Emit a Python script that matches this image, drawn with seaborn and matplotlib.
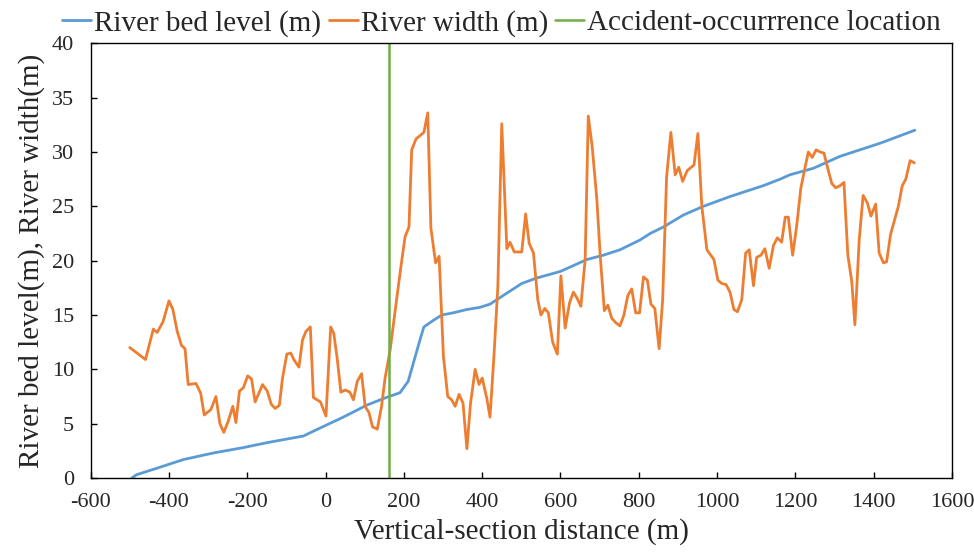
import numpy as np
import pandas as pd
import matplotlib
matplotlib.use('Agg')
import matplotlib.pyplot as plt
import seaborn as sns

# --- data ---
bed_x = [-495, -483, -431, -363, -287, -210, -150, -57, -14, 45, 105, 147, 190, 211,
         241, 251, 275, 297, 326, 360, 394, 420, 454, 501, 539, 599, 624, 667, 709,
         752, 803, 829, 863, 914, 965, 1033, 1118, 1161, 1186, 1246, 1314, 1416, 1505]
bed_level = [0.0, 0.3, 0.9, 1.7, 2.3, 2.8, 3.25, 3.86, 4.6, 5.6, 6.7, 7.3, 7.85, 8.9,
             12.7, 13.9, 14.5, 15.0, 15.2, 15.5, 15.7, 16.0, 16.8, 17.9, 18.4, 19.0,
             19.4, 20.1, 20.5, 21.0, 21.9, 22.5, 23.1, 24.2, 25.0, 25.9, 26.9, 27.5,
             27.9, 28.5, 29.6, 30.8, 32.0]

width_x = [-500, -460, -440, -430, -415, -400, -390, -379, -368, -359, -351, -331, -319,
           -310, -293, -280, -270, -260, -249, -237, -229, -220, -210, -199, -189, -180,
           -161, -149, -139, -129, -118, -110, -99, -89, -81, -68, -59, -50, -39, -31,
           -13, 1, 13, 21, 30, 39, 50, 62, 71, 81, 92, 101, 111, 120, 132, 143, 152, 165,
           177, 190, 203, 213, 220, 231, 251, 261, 269, 281, 290, 301, 312, 322, 331,
           341, 351, 361, 370, 382, 392, 400, 412, 420, 430, 440, 450, 463, 471, 482,
           501, 511, 520, 531, 542, 550, 560, 569, 580, 592, 601, 612, 623, 633, 643,
           652, 663, 671, 681, 693, 701, 712, 721, 731, 741, 752, 762, 772, 782, 792,
           802, 812, 822, 831, 841, 852, 861, 871, 882, 893, 902, 912, 924, 941, 951,
           961, 974, 992, 1002, 1012, 1023, 1033, 1043, 1052, 1063, 1073, 1082, 1093,
           1101, 1112, 1122, 1133, 1144, 1154, 1165, 1174, 1182, 1193, 1203, 1214, 1233,
           1243, 1253, 1263, 1273, 1284, 1293, 1303, 1314, 1324, 1334, 1344, 1352, 1363,
           1373, 1384, 1393, 1405, 1414, 1425, 1433, 1443, 1453, 1463, 1473, 1482, 1493,
           1504]
river_width = [12.0, 10.9, 13.7, 13.4, 14.4, 16.3, 15.5, 13.5, 12.2, 11.9, 8.6, 8.7, 7.8,
               5.8, 6.3, 7.5, 5.0, 4.2, 5.2, 6.6, 5.1, 8.0, 8.3, 9.4, 9.1, 7.0,
               8.6, 8.0, 6.8, 6.4, 6.7, 9.2, 11.4, 11.5, 10.9, 10.2, 12.7, 13.5, 13.9, 7.4,
               7.0, 5.7, 13.9, 13.3, 10.9, 7.9, 8.1, 7.9, 7.2, 8.9, 9.6, 6.6, 6.0, 4.7,
               4.5, 6.6, 9.2, 11.8, 15.2, 18.8, 22.2, 23.1, 30.2, 31.2, 31.8, 33.6, 23.0,
               19.8, 20.4, 11.2, 7.5, 7.2, 6.6, 7.7, 6.9, 2.7, 6.8, 10.0, 8.6, 9.2, 7.3,
               5.6, 11.2, 17.6, 32.6, 21.1, 21.7, 20.8, 20.8, 24.3, 21.6, 20.7, 16.4,
               15.0, 15.6, 15.2, 12.5, 11.4, 18.6, 13.8, 16.1, 17.1, 16.5, 15.8, 20.1,
               33.3, 30.5, 25.6, 20.7, 15.4, 15.9, 14.7, 14.3, 14.0, 15.0, 16.8, 17.4,
               15.2, 15.2, 18.5, 18.2, 16.0, 15.6, 11.9, 16.4, 27.7, 31.8, 27.9, 28.6,
               27.3, 28.3, 28.8, 31.7, 25.0, 21.0, 20.1, 18.2, 17.9, 17.8, 17.1, 15.5,
               15.3, 16.4, 20.7, 21.0, 17.7, 20.3, 20.5, 21.1, 19.3, 21.4, 22.1, 21.7,
               24.0, 24.0, 20.5, 23.1, 26.7, 30.0, 29.5, 30.2, 30.0, 29.9, 28.3, 27.1,
               26.7, 26.9, 27.2, 20.5, 18.1, 14.1, 21.9, 26.0, 25.3, 24.1, 25.2, 20.7,
               19.8, 19.9, 22.4, 23.7, 25.0, 26.9, 27.5, 29.2, 29.0]

accident_x = 161

sns.set_style('white')
plt.rcParams['font.family'] = ['Liberation Serif', 'DejaVu Serif']
plt.rcParams['axes.unicode_minus'] = False

fig = plt.figure(figsize=(9.74, 5.53), dpi=100)
ax = fig.add_axes([0.0931, 0.1356, 0.8843, 0.7861])

sns.lineplot(x=bed_x, y=bed_level, ax=ax, color='#5B9BD5', lw=2.0,
             estimator=None, sort=False, label='River bed level (m)')
sns.lineplot(x=width_x, y=river_width, ax=ax, color='#ED7D31', lw=2.0,
             estimator=None, sort=False, label='River width (m)')
ax.axvline(accident_x, color='#70AD47', lw=1.8, label='Accident-occurrrence location')

ax.set_xlim(-600, 1600)
ax.set_ylim(0, 40)
ax.set_xticks(range(-600, 1601, 200))
ax.set_yticks(range(0, 41, 5))
ax.tick_params(axis='x', bottom=True, direction='in', length=4.5, width=1,
               color='black', labelsize=16, pad=11)
ax.tick_params(axis='y', left=True, direction='in', length=4.5, width=1,
               color='black', labelsize=16, pad=12)
for s in ax.spines.values():
    s.set_color('black')
    s.set_linewidth(1.0)

ax.set_xlabel('Vertical-section distance (m)', fontsize=21, labelpad=4)
ax.set_ylabel('River bed level(m), River width(m)', fontsize=21, labelpad=5)

handles, labels = ax.get_legend_handles_labels()
ax.get_legend().remove()
fig.legend(handles, labels, loc='center', bbox_to_anchor=(0.515, 0.958), ncol=3,
           frameon=False, fontsize=21, handlelength=1.0, handletextpad=0.1,
           columnspacing=0.25, borderpad=0)

fig.savefig('out.png', dpi=100)
